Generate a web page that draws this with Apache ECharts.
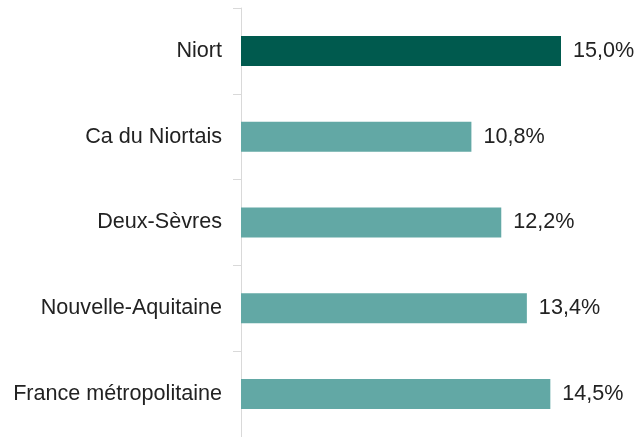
<!DOCTYPE html>
<html>
<head>
<meta charset="utf-8">
<script src="https://cdn.jsdelivr.net/npm/echarts@6/dist/echarts.min.js"></script>
<style>
  html, body { margin: 0; padding: 0; background: #fff; }
  #chart { width: 634px; height: 437px; }
</style>
</head>
<body>
<div id="chart"></div>
<script>
// territoires, du haut vers le bas
const categories = ['Niort', 'Ca du Niortais', 'Deux-Sèvres', 'Nouvelle-Aquitaine', 'France métropolitaine']
const values = [15.0, 10.8, 12.2, 13.4, 14.5]
const barColors = ['#005a4e', '#62a8a5', '#62a8a5', '#62a8a5', '#62a8a5']

const myChart = echarts.init(document.getElementById('chart'))

const option = {
  animation: false,
  grid: { left: 241, right: 9, top: 8, bottom: 0 },
  xAxis: {
    type: 'value',
    min: 0,
    max: 18,
    show: false
  },
  yAxis: {
    type: 'category',
    inverse: true,
    data: categories,
    axisLine: { show: true, lineStyle: { color: '#d9d9d9', width: 1 } },
    axisTick: { show: true, length: 8, lineStyle: { color: '#d9d9d9' } },
    axisLabel: {
      margin: 19,
      color: '#222',
      fontFamily: 'Liberation Sans, Arial, sans-serif',
      fontSize: 21.6
    }
  },
  series: [{
    type: 'bar',
    barWidth: 30,
    data: values.map((v, i) => ({ value: v, itemStyle: { color: barColors[i] } })),
    label: {
      show: true,
      position: 'right',
      distance: 12,
      color: '#222',
      fontFamily: 'Liberation Sans, Arial, sans-serif',
      fontSize: 21.6,
      formatter: p => p.value.toFixed(1).replace('.', ',') + '%'
    }
  }]
}

myChart.setOption(option)
</script>
</body>
</html>
